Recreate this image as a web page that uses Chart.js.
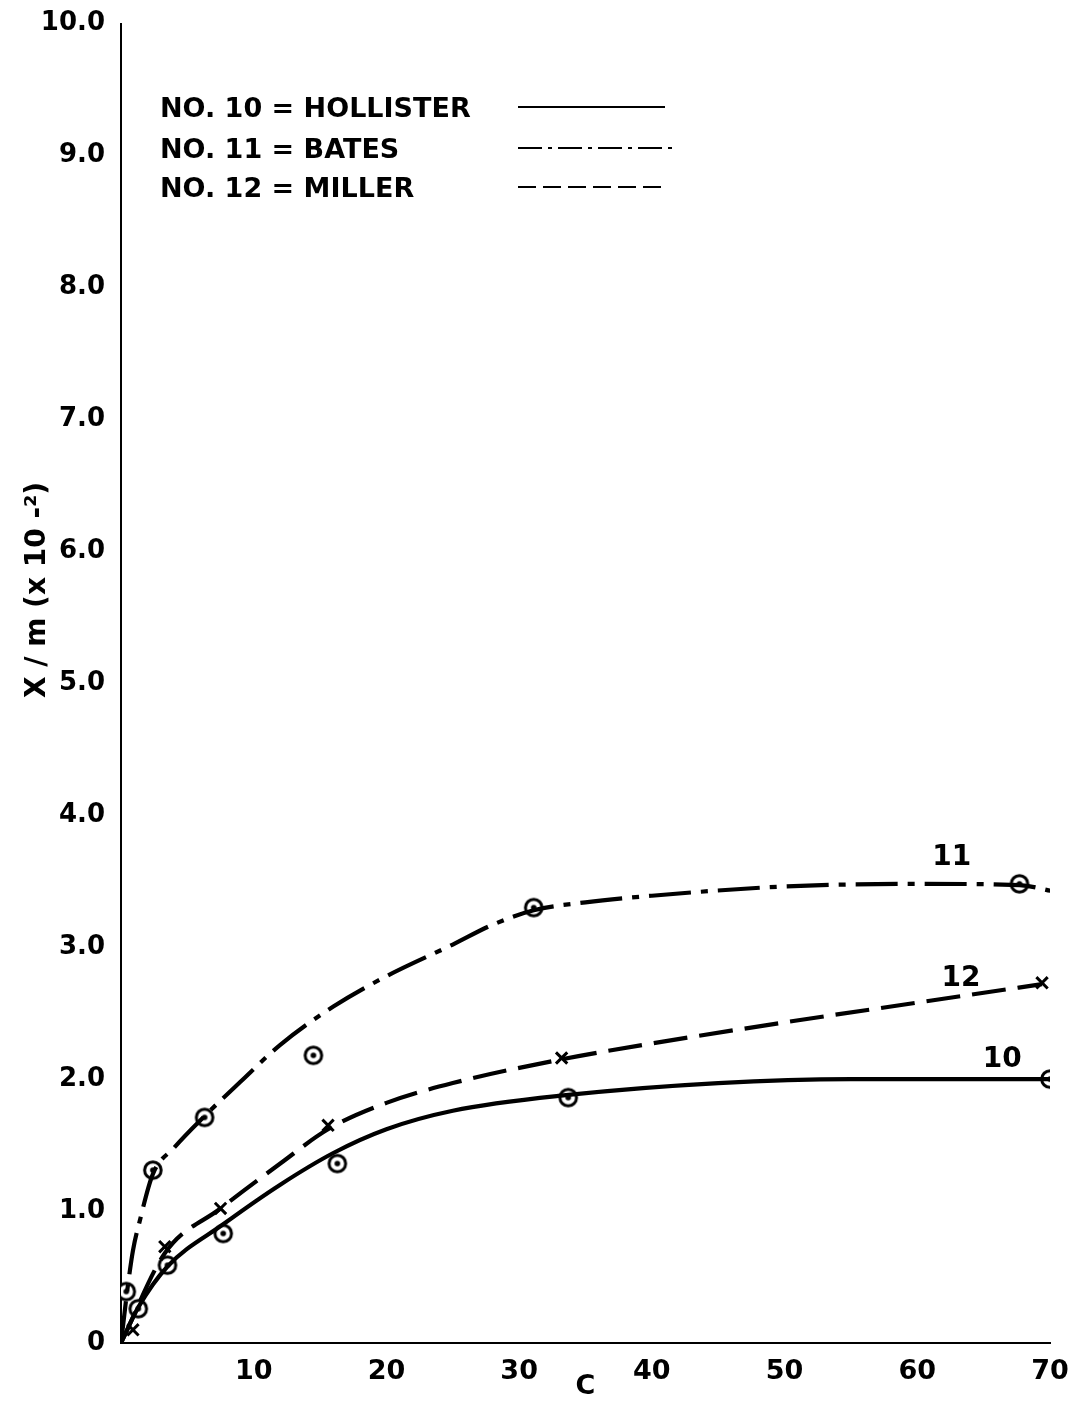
<!DOCTYPE html>
<html>
<head>
<meta charset="utf-8">
<script src="https://cdn.jsdelivr.net/npm/chart.js@4"></script>
<style>
  html, body { margin: 0; padding: 0; background: #fff; }
</style>
</head>
<body>
<canvas id="isoChart" width="1077" height="1403"></canvas>
<script>
// ------------------------------
// Data
// ------------------------------

// fitted curves (C, X/m)
const curveC10 = [0, 1.3, 3.5, 7.7, 12, 16, 20, 25, 33.7, 45, 55, 70];
const curveY10 = [0, 0.27, 0.58, 0.9, 1.2, 1.44, 1.62, 1.76, 1.88, 1.97, 2.0, 2.0];

const curveC11 = [0, 0.5, 0.9, 1.4, 2.4, 4, 6.3, 9, 12, 16, 20, 25, 28, 31.1, 35, 40, 50, 60, 67.7, 70.4];
const curveY11 = [0, 0.42, 0.7, 0.92, 1.28, 1.48, 1.72, 1.98, 2.26, 2.55, 2.78, 3.02, 3.17, 3.28, 3.34, 3.39, 3.46, 3.48, 3.47, 3.42];

const curveC12 = [0, 3.3, 7.5, 12, 15.6, 20, 25, 33.2, 40, 50, 60, 69.4];
const curveY12 = [0, 0.68, 1.02, 1.36, 1.62, 1.82, 1.97, 2.15, 2.27, 2.43, 2.58, 2.72];

// measured points
const obsC10 = [1.3, 3.5, 7.7, 16.3, 33.7, 70];
const obsY10 = [0.26, 0.59, 0.83, 1.36, 1.86, 2.0];

const obsC11 = [0.4, 2.4, 6.3, 14.5, 31.1, 67.7];
const obsY11 = [0.39, 1.31, 1.71, 2.18, 3.3, 3.48];

const obsC12 = [0.9, 3.3, 7.5, 15.6, 33.2, 69.4];
const obsY12 = [0.1, 0.73, 1.02, 1.65, 2.16, 2.73];

const legendNames = ["NO. 10 = HOLLISTER", "NO. 11 = BATES", "NO. 12 = MILLER"];
const curveTags = ["10", "11", "12"];

const FONT = "'DejaVu Sans', sans-serif";

function pts(xs, ys) {
    return xs.map((x, i) => ({ x: x, y: ys[i] }));
}

// circle with a dot in the middle
function dotCircle() {
    const c = document.createElement("canvas");
    c.width = 24; c.height = 24;
    const g = c.getContext("2d");
    g.beginPath();
    g.arc(12, 12, 8.3, 0, Math.PI * 2);
    g.fillStyle = "#fff";
    g.fill();
    g.lineWidth = 3;
    g.strokeStyle = "#000";
    g.stroke();
    g.beginPath();
    g.arc(12, 12, 2.8, 0, Math.PI * 2);
    g.fillStyle = "#000";
    g.fill();
    return c;
}
const circleMark = dotCircle();

const DASH_11 = [42, 10, 7, 10];
const DASH_12 = [34, 12];

function curveSet(xs, ys, dash) {
    return {
        data: pts(xs, ys),
        borderColor: "#000",
        borderWidth: 4.2,
        borderDash: dash,
        pointRadius: 0,
        cubicInterpolationMode: "monotone",
        fill: false
    };
}

function markSet(xs, ys, style) {
    return {
        data: pts(xs, ys),
        showLine: false,
        pointStyle: style,
        pointRadius: style === "crossRot" ? 8 : 12,
        borderColor: "#000",
        backgroundColor: "#000",
        pointBorderWidth: 3
    };
}

// ------------------------------
// extra text: legend, curve tags, y title
// ------------------------------
const notes = {
    id: "notes",
    afterDraw(chart) {
        const ctx = chart.ctx;
        const xs = chart.scales.x, ys = chart.scales.y;
        ctx.save();
        ctx.fillStyle = "#000";
        ctx.strokeStyle = "#000";

        // legend
        ctx.font = "bold 27px " + FONT;
        ctx.textAlign = "left";
        ctx.textBaseline = "middle";
        const rowY = [110, 151, 190];
        const dashes = [[], [24, 6, 4, 6], [18, 7]];
        legendNames.forEach((t, i) => {
            ctx.fillText(t, 160, rowY[i]);
            ctx.beginPath();
            ctx.setLineDash(dashes[i]);
            ctx.lineWidth = 2;
            ctx.moveTo(518, rowY[i] - 3);
            ctx.lineTo(i === 1 ? 675 : 665, rowY[i] - 3);
            ctx.stroke();
        });
        ctx.setLineDash([]);

        // curve numbers
        ctx.textAlign = "center";
        ctx.font = "bold 28px " + FONT;
        const tagAt = [[66.4, 2.15], [62.6, 3.68], [63.3, 2.76]];
        curveTags.forEach((t, i) => {
            ctx.fillText(t, xs.getPixelForValue(tagAt[i][0]), ys.getPixelForValue(tagAt[i][1]));
        });

        // y axis title
        ctx.translate(38, 590);
        ctx.rotate(-Math.PI / 2);
        ctx.fillText("X / m (x 10 -\u00B2)", 0, 0);
        ctx.restore();
    }
};

new Chart(document.getElementById("isoChart"), {
    type: "line",
    data: {
        datasets: [
            curveSet(curveC10, curveY10, []),
            curveSet(curveC11, curveY11, DASH_11),
            curveSet(curveC12, curveY12, DASH_12),
            markSet(obsC10, obsY10, circleMark),
            markSet(obsC11, obsY11, circleMark),
            markSet(obsC12, obsY12, "crossRot")
        ]
    },
    options: {
        responsive: false,
        animation: false,
        layout: { padding: { top: 20, right: 27, bottom: 0, left: 0 } },
        plugins: {
            legend: { display: false },
            tooltip: { enabled: false }
        },
        scales: {
            x: {
                type: "linear",
                min: 0,
                max: 70,
                grid: { display: false },
                border: { display: true, color: "#000", width: 2 },
                ticks: {
                    stepSize: 10,
                    color: "#000",
                    padding: 5,
                    maxRotation: 0,
                    font: { family: FONT, size: 27, weight: "bold" },
                    callback: v => (v === 0 ? "" : v)
                },
                title: {
                    display: true,
                    text: "C",
                    color: "#000",
                    padding: 0,
                    font: { family: FONT, size: 27, weight: "bold" }
                },
                afterFit: s => { s.height = 60; }
            },
            y: {
                type: "linear",
                min: 0,
                max: 10,
                grid: { display: false },
                border: { display: true, color: "#000", width: 2 },
                ticks: {
                    stepSize: 1,
                    color: "#000",
                    padding: 8,
                    font: { family: FONT, size: 26, weight: "bold" },
                    callback: v => (v === 0 ? "0" : v.toFixed(1))
                },
                afterFit: s => { s.width = 121; }
            }
        }
    },
    plugins: [notes]
});
</script>
</body>
</html>
